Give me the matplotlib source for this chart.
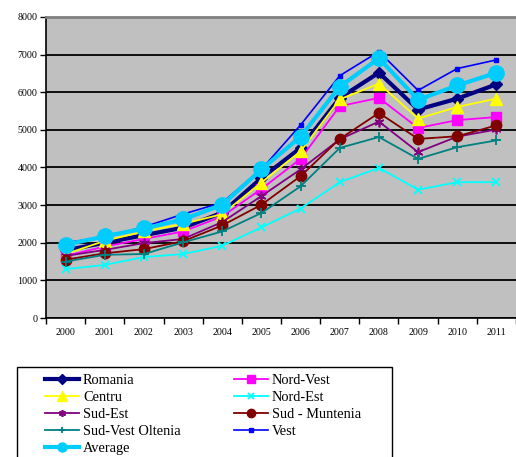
import matplotlib.pyplot as plt
from matplotlib.lines import Line2D
from matplotlib.patches import Rectangle
from matplotlib.ticker import FixedLocator, NullFormatter

years = ['2000', '2001', '2002', '2003', '2004', '2005',
         '2006', '2007', '2008', '2009', '2010', '2011']

romania = [1800, 2000, 2200, 2400, 2800, 3720, 4520, 5850, 6520, 5540, 5830, 6210]
nord_vest = [1650, 1900, 2100, 2300, 2700, 3430, 4230, 5630, 5850, 5050, 5260, 5340]
centru = [1700, 2050, 2300, 2500, 2760, 3600, 4430, 5810, 6230, 5300, 5610, 5830]
nord_est = [1300, 1410, 1620, 1700, 1920, 2410, 2910, 3610, 3990, 3410, 3610, 3610]
sud_est = [1650, 1810, 1990, 2100, 2550, 3240, 3950, 4750, 5220, 4410, 4820, 5010]
sud_muntenia = [1550, 1720, 1830, 2040, 2460, 3010, 3770, 4760, 5450, 4760, 4830, 5120]
sud_vest_oltenia = [1500, 1680, 1700, 2010, 2300, 2790, 3500, 4520, 4810, 4230, 4540, 4720]
vest = [2000, 2150, 2420, 2760, 3070, 3950, 5130, 6440, 7080, 6050, 6630, 6860]
average = [1950, 2170, 2380, 2620, 3010, 3950, 4820, 6150, 6900, 5800, 6180, 6520]

plt.rcParams['font.family'] = ['Liberation Serif', 'DejaVu Serif']

fig = plt.figure(figsize=(5.16, 4.57), dpi=100)
ax = fig.add_axes([46 / 516, (457 - 318) / 457, 470 / 516, 301 / 457])
ax.set_facecolor('#C0C0C0')

x = range(len(years))
# name, values, line style, legend marker size
series = [
    ('Romania', romania, dict(color='#000080', marker='D', ms=6.5, lw=3.0), 5),
    ('Nord-Vest', nord_vest, dict(color='#FF00FF', marker='s', ms=6.5, lw=1.3), 6),
    ('Centru', centru, dict(color='#FFFF00', marker='^', ms=8, lw=1.3), 7),
    ('Nord-Est', nord_est, dict(color='#00FFFF', marker='x', ms=6, mew=1.3, lw=1.3), 5),
    ('Sud-Est', sud_est, dict(color='#800080', marker=(6, 2, 0), ms=7, mew=1.2, lw=1.3), 5),
    ('Sud - Muntenia', sud_muntenia, dict(color='#800000', marker='o', ms=7.5, lw=1.3), 6),
    ('Sud-Vest Oltenia', sud_vest_oltenia, dict(color='#008080', marker='+', ms=7, mew=1.3, lw=1.3), 5),
    ('Vest', vest, dict(color='#0000FF', marker='s', ms=3, lw=1.2), 3),
    ('Average', average, dict(color='#00CCFF', marker='o', ms=11, lw=3.0), 6.5),
]
handles = {}
for name, vals, style, leg_ms in series:
    ax.plot(x, vals, label=name, zorder=3, **style)
    proxy = dict(style)
    proxy['ms'] = leg_ms
    handles[name] = Line2D([], [], **proxy)

ax.set_xlim(-0.5, 11.5)
ax.set_ylim(0, 8000)
ax.set_yticks(range(0, 8001, 1000))
ax.yaxis.grid(True, color='black', lw=1.3, zorder=1)
ax.set_axisbelow(True)
ax.tick_params(axis='y', direction='out', length=4, width=1, labelsize=7.2, pad=2)

ax.set_xticks(list(x))
ax.set_xticklabels(years)
ax.tick_params(axis='x', which='major', length=0, labelsize=7.2, pad=7)
ax.xaxis.set_minor_locator(FixedLocator([i - 0.5 for i in range(13)]))
ax.xaxis.set_minor_formatter(NullFormatter())
ax.tick_params(axis='x', which='minor', direction='out', length=4, width=1)

ax.spines['top'].set_color('#808080')
ax.spines['top'].set_linewidth(2)
ax.spines['right'].set_visible(False)
ax.spines['left'].set_linewidth(1.2)
ax.spines['bottom'].set_linewidth(1.2)

# legend frame runs off the bottom of the figure
fig.patches.append(Rectangle((17 / 516, -0.02), 375 / 516, 90 / 457 + 0.02,
                             transform=fig.transFigure, facecolor='white',
                             edgecolor='black', lw=1.0, zorder=0))

order = ['Romania', 'Centru', 'Sud-Est', 'Sud-Vest Oltenia', 'Average',
         'Nord-Vest', 'Nord-Est', 'Sud - Muntenia', 'Vest']
fig.legend([handles[n] for n in order], order, ncol=2,
           loc='upper left', bbox_to_anchor=(45 / 516, 1 - 374 / 457),
           fontsize=10.4, frameon=False, borderpad=0, labelspacing=0.27,
           handlelength=2.35, handletextpad=0.28, columnspacing=3.67,
           borderaxespad=0)

fig.savefig('out.png', dpi=100)
